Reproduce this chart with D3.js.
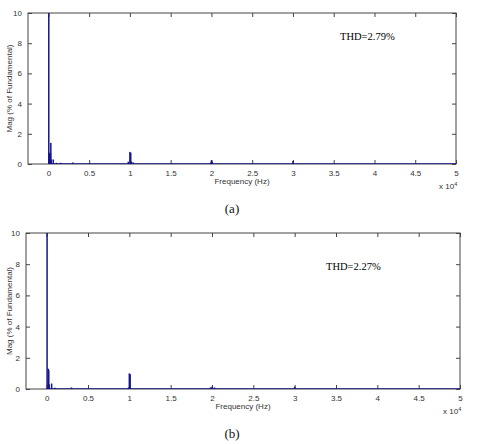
<!DOCTYPE html>
<html>
<head>
<meta charset="utf-8">
<script src="https://cdn.jsdelivr.net/npm/d3@7"></script>
<style>
  body { margin: 0; background: #fff; }
  svg { display: block; }
  .tick text { font-family: "Liberation Sans", Arial, sans-serif; font-size: 8px; fill: #333; }
</style>
</head>
<body>
<div id="container"></div>
<script>
const WIDTH = 488;
const HEIGHT = 444;
const BAR = '#15158a';

// frequencies in units of 1e4 Hz, magnitudes in % of fundamental
const freqA = [0.005, 0.01, 0.015, 0.02, 0.025, 0.03, 0.035, 0.06, 0.1, 0.15, 0.3, 0.98, 1.0, 1.01, 1.02, 1.04, 1.99, 2.0, 2.01, 3.0];
const magA  = [100,   0.45, 0.7,   0.75, 0.7,   1.4,  0.3,   0.3,  0.08, 0.08, 0.1, 0.15, 0.8, 0.75, 0.15, 0.1,  0.1,  0.25, 0.15, 0.2];

const freqB = [0.005, 0.02, 0.025, 0.03, 0.06, 0.1, 0.3, 0.99, 1.0, 1.01, 1.98, 2.0, 2.03, 3.0];
const magB  = [100,   1.3,  1.2,   0.3,  0.35, 0.08, 0.1, 0.1, 1.0, 0.95, 0.1,  0.15, 0.1, 0.15];

const xTicks = [0, 0.5, 1, 1.5, 2, 2.5, 3, 3.5, 4, 4.5, 5];
const yTicks = [0, 2, 4, 6, 8, 10];

const panels = [
  { freq: freqA, mag: magA, thd: 'THD=2.79%', tag: '(a)',
    box: { left: 28, top: 13, right: 456, bottom: 164 }, thdX: 340, thdY: 40, tagY: 213 },
  { freq: freqB, mag: magB, thd: 'THD=2.27%', tag: '(b)',
    box: { left: 26, top: 233, right: 460, bottom: 389 }, thdX: 326, thdY: 270, tagY: 438 }
];

const svg = d3.select('#container')
              .append('svg')
                .attr('width', WIDTH)
                .attr('height', HEIGHT);

panels.forEach(p => {
    const b = p.box;
    const w = b.right - b.left;
    const h = b.bottom - b.top;

    const g = svg.append('g')
                 .attr('transform', `translate(${b.left}, ${b.top})`);

    const xscale = d3.scaleLinear().domain([-0.25, 5]).range([0, w]);
    const yscale = d3.scaleLinear().domain([0, 10]).range([h, 0]);

    g.append('rect')
     .attr('width', w)
     .attr('height', h)
     .attr('fill', 'none')
     .attr('stroke', '#444')
     .attr('stroke-width', 1);

    // inward ticks like a matlab box
    const axB = g.append('g').attr('transform', `translate(0, ${h})`)
                 .call(d3.axisBottom(xscale).tickValues(xTicks).tickSizeInner(-4).tickSizeOuter(0).tickPadding(6).tickFormat(d3.format('')));
    const axT = g.append('g')
                 .call(d3.axisTop(xscale).tickValues(xTicks).tickSizeInner(-4).tickSizeOuter(0).tickFormat(''));
    const axL = g.append('g')
                 .call(d3.axisLeft(yscale).tickValues(yTicks).tickSizeInner(-4).tickSizeOuter(0).tickPadding(6));
    const axR = g.append('g').attr('transform', `translate(${w}, 0)`)
                 .call(d3.axisRight(yscale).tickValues(yTicks).tickSizeInner(-4).tickSizeOuter(0).tickFormat(''));
    [axB, axT, axL, axR].forEach(a => {
        a.select('.domain').remove();
        a.selectAll('.tick line').attr('stroke', '#444');
    });

    const clip = 'clip-' + p.tag.replace(/\W/g, '');
    g.append('clipPath').attr('id', clip)
     .append('rect').attr('width', w).attr('height', h);

    const plot = g.append('g').attr('clip-path', `url(#${clip})`);

    plot.append('line')
        .attr('x1', xscale(0)).attr('x2', xscale(5))
        .attr('y1', yscale(0)).attr('y2', yscale(0))
        .attr('stroke', BAR).attr('stroke-width', 1.5);

    plot.selectAll('rect.bar')
        .data(p.freq.map((f, i) => ({ f, m: p.mag[i] })))
        .enter()
        .append('rect')
          .attr('class', 'bar')
          .attr('x', d => xscale(d.f) - 0.75)
          .attr('width', 1.5)
          .attr('y', d => yscale(Math.min(d.m, 11)))
          .attr('height', d => yscale(0) - yscale(Math.min(d.m, 11)))
          .attr('fill', BAR);

    g.append('text')
     .attr('x', w / 2)
     .attr('y', h + 20)
     .attr('text-anchor', 'middle')
     .attr('font-family', '"Liberation Sans", Arial, sans-serif')
     .attr('font-size', 8)
     .attr('fill', '#333')
     .text('Frequency (Hz)');

    const ex = g.append('text')
                .attr('x', w - 17)
                .attr('y', h + 25)
                .attr('font-family', '"Liberation Sans", Arial, sans-serif')
                .attr('font-size', 8)
                .attr('fill', '#333');
    ex.append('tspan').text('x 10');
    ex.append('tspan').attr('dy', -3).attr('font-size', 5.5).text('4');

    g.append('text')
     .attr('transform', `translate(${-b.left + 12}, ${h / 2}) rotate(-90)`)
     .attr('text-anchor', 'middle')
     .attr('font-family', '"Liberation Sans", Arial, sans-serif')
     .attr('font-size', 8)
     .attr('fill', '#333')
     .text('Mag (% of Fundamental)');

    svg.append('text')
       .attr('x', p.thdX)
       .attr('y', p.thdY)
       .attr('font-family', '"Liberation Serif", "Times New Roman", serif')
       .attr('font-size', 10.5)
       .attr('fill', '#000')
       .text(p.thd);

    svg.append('text')
       .attr('x', 232)
       .attr('y', p.tagY)
       .attr('text-anchor', 'middle')
       .attr('font-family', '"Liberation Serif", "Times New Roman", serif')
       .attr('font-size', 13)
       .attr('fill', '#111')
       .text(p.tag);
});
</script>
</body>
</html>
